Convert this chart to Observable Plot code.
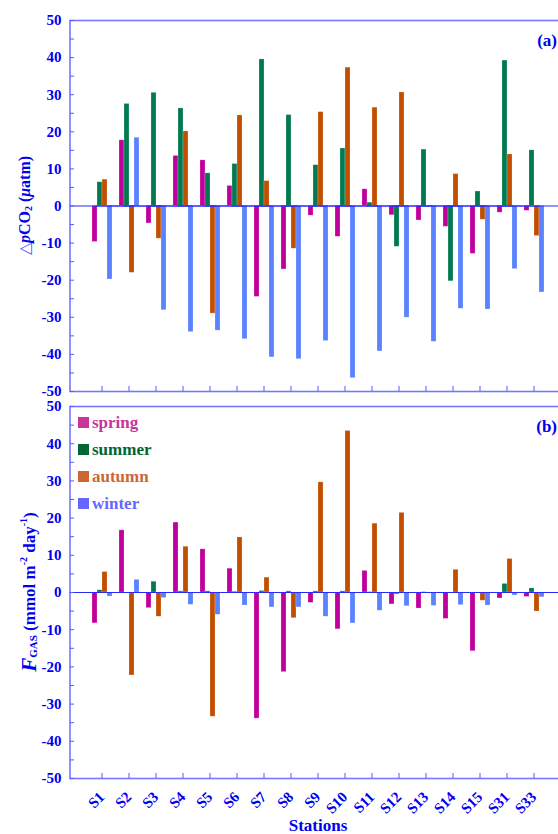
<!DOCTYPE html>
<html><head><meta charset="utf-8">
<script src="https://cdn.jsdelivr.net/npm/d3@7"></script>
<script src="https://cdn.jsdelivr.net/npm/@observablehq/plot@0.6"></script>
<style>
html,body{margin:0;padding:0;background:#fff;overflow:hidden;}
#wrap{position:relative;width:558px;height:834px;overflow:hidden;}
#wrap svg{display:block;overflow:visible;max-width:none !important;}
.legend{position:absolute;left:78px;top:409px;font-family:"Liberation Serif","Times New Roman",serif;font-weight:bold;font-size:17px;}
.legend .row{display:flex;align-items:center;height:27px;}
.legend .sw{display:inline-block;width:11px;height:11px;margin-right:3px;}
</style></head>
<body><div id="wrap"></div>
<script>
const stations = ["S1","S2","S3","S4","S5","S6","S7","S8","S9","S10","S11","S12","S13","S14","S15","S31","S33"];
const seasons = ["spring","summer","autumn","winter"];
const barColors = ["#c0009c","#007a4e","#c24e00","#5b82ff"];
const legendColors = ["#cc3399","#006633","#cc6633","#6666ff"];

// ΔpCO2 (µatm)
const dpco2Spring = [-9.7,17.7,-4.7,13.5,12.3,5.4,-24.5,-17.1,-2.6,-8.3,4.5,-2.5,-3.9,-5.6,-12.9,-1.8,-1.3];
const dpco2Summer = [6.4,27.5,30.5,26.3,8.8,11.3,39.5,24.5,11.0,15.5,0.9,-11.0,15.2,-20.3,3.9,39.2,15.0];
const dpco2Autumn = [7.1,-18.0,-8.8,20.1,-29.0,24.4,6.7,-11.5,25.3,37.3,26.5,30.6,0,8.6,-3.7,13.9,-8.1];
const dpco2Winter = [-19.8,18.4,-28.1,-34.0,-33.6,-35.9,-40.8,-41.3,-36.4,-46.4,-39.2,-30.1,-36.6,-27.7,-27.9,-17.0,-23.3];

// FGAS (mmol m-2 day-1)
const fgasSpring = [-8.3,16.7,-4.2,18.8,11.6,6.4,-33.9,-21.4,-2.8,-9.9,5.8,-3.2,-4.3,-7.1,-15.8,-1.6,-1.2];
const fgasSummer = [0.6,0,2.9,0.3,0.3,0.2,0.4,0.3,0.3,0.3,0.1,-0.5,0.1,0,0,2.3,1.1];
const fgasAutumn = [5.5,-22.3,-6.5,12.3,-33.4,14.8,4.0,-6.9,29.6,43.4,18.5,21.4,0,6.1,-2.2,9.0,-5.1];
const fgasWinter = [-1.1,3.4,-1.5,-3.3,-6.0,-3.5,-4.0,-4.0,-6.5,-8.3,-4.9,-3.7,-3.6,-3.4,-3.5,-0.8,-1.3];

const majorTicks = [-50,-40,-30,-20,-10,0,10,20,30,40,50];
const minorTicks = [-50,-45,-40,-35,-30,-25,-20,-15,-10,-5,0,5,10,15,20,25,30,35,40,45,50];

const FONT = '"Liberation Serif","Times New Roman",serif';
const BLUE = "#0000f0";

// layout: frame spans [ML, W - MR]; station facets span [FX_LEFT, FX_RIGHT]
const W = 572, ML = 70, MR = 6, FX_LEFT = 82.5, FX_RIGHT = 552;
const defaultOuter = FX_LEFT - ML;
const TAG_END = 557; // right end of the (a)/(b) panel tags, in page pixels

function table(series) {
  const rows = [];
  stations.forEach((s, i) => seasons.forEach((se, j) => rows.push({station: s, season: se, value: series[j][i]})));
  return rows;
}

function panel({series, marginTop, marginBottom, height, tag, showLabels}, adj) {
  const a = Object.assign({frameL: 0, frameR: 0, axisDx: 0, ruleL: 0, ruleR: 0, tagDx: -5}, adj || {});
  const data = table(series);
  const marks = [
    Plot.barY(data, {fx: "station", x: "season", y: "value", fill: "season", stroke: "#ffffff", strokeOpacity: 0.35, strokeWidth: 0.6}),
    Plot.ruleY([0], {stroke: "#2a2aff", strokeWidth: 1.2, insetLeft: a.ruleL, insetRight: a.ruleR}),
    Plot.frame({stroke: "#7676ff", strokeWidth: 1.6, facet: "super", insetLeft: a.frameL, insetRight: a.frameR}),
    Plot.axisY(minorTicks, {label: null, tickSize: -4, tickFormat: () => "", dx: a.axisDx, stroke: "#5a5aff"}),
    Plot.axisY(majorTicks, {label: null, tickSize: 0, tickPadding: 9, dx: a.axisDx, tickFormat: (d) => String(d), fontWeight: "bold", fontSize: 15, fill: BLUE}),
    Plot.axisFx({anchor: "bottom", tickSize: -5, tickFormat: () => "", label: null, stroke: "#5a5aff"}),
    Plot.text([tag], {frameAnchor: "top-right", dx: a.tagDx, dy: 13, facet: "super", fontWeight: "bold", fontSize: 17, fill: BLUE, textAnchor: "end"})
  ];
  if (showLabels) {
    marks.push(Plot.axisFx({anchor: "bottom", tickSize: 0, tickPadding: 16, tickRotate: -45, dx: 0, label: null, fontWeight: "bold", fontSize: 15, fill: BLUE}));
    marks.push(Plot.text(["Stations"], {frameAnchor: "bottom", dy: 52, facet: "super", fontWeight: "bold", fontSize: 17, fill: BLUE}));
  }
  return Plot.plot({
    width: W,
    height,
    marginLeft: ML,
    marginRight: MR,
    marginTop,
    marginBottom,
    style: {fontFamily: FONT, color: BLUE, background: "transparent", overflow: "visible", maxWidth: "none"},
    fx: {domain: stations, range: [FX_LEFT, FX_RIGHT], paddingInner: 0, paddingOuter: 0, axis: null},
    x: {domain: seasons, paddingInner: 0, paddingOuter: 0.44, axis: null},
    y: {domain: [-50, 50], axis: null},
    color: {domain: seasons, range: barColors},
    marks
  });
}

const wrap = document.getElementById("wrap");

// first pass: measure where Plot put the frame, rule and y axis, then correct
function measure(chart) {
  const box = chart.getBoundingClientRect();
  const ext = (sel) => {
    const els = chart.querySelectorAll(sel);
    let l = Infinity, r = -Infinity;
    els.forEach((el) => {
      const b = el.getBoundingClientRect();
      if (b.width === 0 && b.height === 0) return;
      l = Math.min(l, b.left - box.left);
      r = Math.max(r, b.right - box.left);
    });
    return isFinite(l) ? {l, r} : null;
  };
  const frame = ext('[aria-label="frame"]');
  const rule = ext('[aria-label="rule"] line');
  const axis = ext('[aria-label="y-axis tick"] path');
  const right = W - MR;
  return {
    frameL: frame ? -(frame.l - ML) : -defaultOuter,
    frameR: frame ? -(right - frame.r) : -defaultOuter,
    ruleL: rule ? -(rule.l - ML) - 1 : -defaultOuter - 1,
    ruleR: rule ? -(right - rule.r) - 1 : -defaultOuter - 1,
    axisDx: axis ? ML - axis.l : -defaultOuter,
    tagDx: frame ? TAG_END - frame.r : TAG_END - FX_RIGHT
  };
}

function build(cfg) {
  const probe = panel(cfg);
  wrap.appendChild(probe);
  let adj;
  try { adj = measure(probe); } catch (e) { adj = null; }
  wrap.removeChild(probe);
  return panel(cfg, adj || {frameL: -defaultOuter, frameR: -defaultOuter, ruleL: -defaultOuter - 1, ruleR: -defaultOuter - 1, axisDx: -defaultOuter, tagDx: TAG_END - FX_RIGHT});
}

const cfgA = {series: [dpco2Spring, dpco2Summer, dpco2Autumn, dpco2Winter], marginTop: 20, marginBottom: 7, height: 398, tag: "(a)", showLabels: false};
const cfgB = {series: [fgasSpring, fgasSummer, fgasAutumn, fgasWinter], marginTop: 8, marginBottom: 56, height: 436, tag: "(b)", showLabels: true};
const chartA = build(cfgA);
wrap.appendChild(chartA);
const chartB = build(cfgB);
wrap.appendChild(chartB);

function yMid(chart) {
  const r = chart.scale("y").range;
  return (r[0] + r[1]) / 2;
}

// y-axis titles with sub/superscripts
{
  const t = d3.select(chartA).append("text")
    .attr("transform", `translate(24,${yMid(chartA)}) rotate(-90)`)
    .attr("text-anchor", "middle").attr("dominant-baseline", "central")
    .attr("font-family", FONT).attr("font-weight", "bold").attr("font-size", 16).attr("fill", BLUE);
  t.append("tspan").attr("fill", "#5a5aff").attr("font-weight", "normal").text("△");
  t.append("tspan").attr("font-style", "italic").text("p");
  t.append("tspan").text("CO");
  t.append("tspan").attr("font-size", 10).attr("dy", 4).text("2");
  t.append("tspan").attr("dy", -4).text(" (");
  t.append("tspan").attr("font-style", "italic").text("μ");
  t.append("tspan").text("atm)");
}
{
  const t = d3.select(chartB).append("text")
    .attr("transform", `translate(29,${yMid(chartB)}) rotate(-90)`)
    .attr("text-anchor", "middle").attr("dominant-baseline", "central")
    .attr("font-family", FONT).attr("font-weight", "bold").attr("font-size", 17).attr("fill", BLUE);
  t.append("tspan").attr("font-style", "italic").attr("font-size", 21).text("F");
  t.append("tspan").attr("font-size", 11).attr("dy", 4).text("GAS");
  t.append("tspan").attr("dy", -4).text(" (mmol m");
  t.append("tspan").attr("font-size", 10).attr("dy", -6).text("-2");
  t.append("tspan").attr("dy", 6).text(" day");
  t.append("tspan").attr("font-size", 10).attr("dy", -6).text("-1");
  t.append("tspan").attr("dy", 6).text(")");
}

// legend
const legend = document.createElement("div");
legend.className = "legend";
seasons.forEach((s, i) => {
  const row = document.createElement("div");
  row.className = "row";
  row.style.color = legendColors[i];
  const sw = document.createElement("span");
  sw.className = "sw";
  sw.style.background = legendColors[i];
  row.appendChild(sw);
  row.appendChild(document.createTextNode(s));
  legend.appendChild(row);
});
wrap.appendChild(legend);
</script>
</body></html>
